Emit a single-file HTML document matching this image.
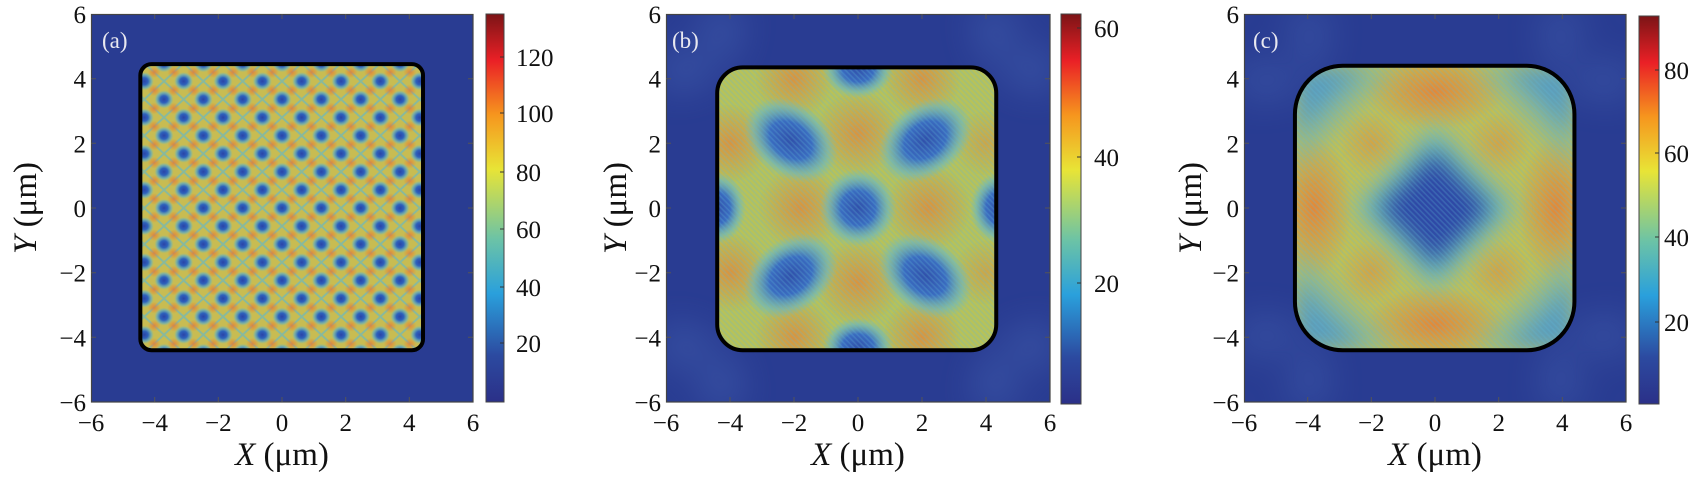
<!DOCTYPE html>
<html><head><meta charset="utf-8"><style>
html,body{margin:0;padding:0;background:#fff;}
svg{display:block;}
text{font-family:"Liberation Serif",serif;fill:#111;}
.t{font-size:25px;}
.lab{font-size:33px;}
.pl{font-size:23px;fill:#e8e8f0;}
</style></head><body>
<svg width="1698" height="481" viewBox="0 0 1698 481" xmlns="http://www.w3.org/2000/svg">
<defs>
 <linearGradient id="cb" x1="0" y1="1" x2="0" y2="0">
  <stop offset="0" stop-color="#2b3088"/>
  <stop offset="0.12" stop-color="#2c4aa0"/>
  <stop offset="0.28" stop-color="#2aa0dc"/>
  <stop offset="0.42" stop-color="#6cc3a6"/>
  <stop offset="0.6" stop-color="#e8e436"/>
  <stop offset="0.74" stop-color="#f6961e"/>
  <stop offset="0.88" stop-color="#ea2026"/>
  <stop offset="1" stop-color="#7c1416"/>
 </linearGradient>
 <radialGradient id="spot">
  <stop offset="0" stop-color="#2a44a8"/>
  <stop offset="0.4" stop-color="#2e62bc"/>
  <stop offset="0.75" stop-color="#4aa8d8" stop-opacity="0.6"/>
  <stop offset="1" stop-color="#6cc0c0" stop-opacity="0"/>
 </radialGradient>
 <radialGradient id="org">
  <stop offset="0" stop-color="#ec7a30" stop-opacity="0.8"/>
  <stop offset="1" stop-color="#ec7a30" stop-opacity="0"/>
 </radialGradient>
 <radialGradient id="blob">
  <stop offset="0" stop-color="#3050aa"/>
  <stop offset="0.45" stop-color="#3a6cc0"/>
  <stop offset="0.8" stop-color="#58b4d8" stop-opacity="0.5"/>
  <stop offset="1" stop-color="#60c0d0" stop-opacity="0"/>
 </radialGradient>
 <pattern id="pa" patternUnits="userSpaceOnUse" x="-0.618" y="-0.56" width="1.236" height="1.12">
  <rect width="1.236" height="1.12" fill="#c8bc52"/>
  <path d="M0 0.56 L0.618 0 L1.236 0.56 L0.618 1.12 Z" fill="none" stroke="#5cb8d0" stroke-width="0.06" opacity="0.6"/>
  <ellipse cx="0.309" cy="0.28" rx="0.2" ry="0.18" fill="url(#org)"/>
  <ellipse cx="0.927" cy="0.84" rx="0.2" ry="0.18" fill="url(#org)"/>
  <ellipse cx="0.927" cy="0.28" rx="0.2" ry="0.18" fill="url(#org)"/>
  <ellipse cx="0.309" cy="0.84" rx="0.2" ry="0.18" fill="url(#org)"/>
  <ellipse cx="0.618" cy="0.56" rx="0.3" ry="0.28" fill="url(#spot)"/>
  <ellipse cx="0" cy="0" rx="0.3" ry="0.28" fill="url(#spot)"/>
  <ellipse cx="1.236" cy="0" rx="0.3" ry="0.28" fill="url(#spot)"/>
  <ellipse cx="0" cy="1.12" rx="0.3" ry="0.28" fill="url(#spot)"/>
  <ellipse cx="1.236" cy="1.12" rx="0.3" ry="0.28" fill="url(#spot)"/>
 </pattern>
 <pattern id="hatch" patternUnits="userSpaceOnUse" width="0.12" height="0.12" patternTransform="rotate(45)">
  <rect width="0.12" height="0.05" fill="#60b8d8" fill-opacity="0.25"/>
 </pattern>
 <clipPath id="ca"><rect x="-4.45" y="-4.45" width="8.88" height="8.85" rx="0.35"/></clipPath>
 <clipPath id="cbp"><rect x="-4.4" y="-4.35" width="8.72" height="8.75" rx="0.8"/></clipPath>
 <clipPath id="cc"><rect x="-4.4" y="-4.4" width="8.78" height="8.8" rx="1.5"/></clipPath>
 <filter id="bl" x="-20%" y="-20%" width="140%" height="140%"><feGaussianBlur stdDeviation="0.35"/></filter>
 <filter id="bl2" x="-20%" y="-20%" width="140%" height="140%"><feGaussianBlur stdDeviation="0.6"/></filter>
</defs>

<!-- ============ Panel A ============ -->
<svg x="91" y="14" width="382" height="388" viewBox="-6 -6 12 12" preserveAspectRatio="none">
 <rect x="-6" y="-6" width="12" height="12" fill="#293c92"/>
 <g clip-path="url(#ca)">
  <rect x="-6" y="-6" width="12" height="12" fill="url(#pa)"/>
 </g>
 <rect x="-4.45" y="-4.45" width="8.88" height="8.85" rx="0.35" fill="none" stroke="#000" stroke-width="4" vector-effect="non-scaling-stroke"/>
</svg>
<rect x="91.5" y="14.5" width="381.5" height="387.5" fill="none" stroke="#444" stroke-width="1.2"/>
<g stroke="#555" stroke-width="1">
 <path d="M154.7 402v-5M218.3 402v-5M282 402v-5M345.7 402v-5M409.3 402v-5M154.7 14v5M218.3 14v5M282 14v5M345.7 14v5M409.3 14v5"/>
 <path d="M91 78.7h5M91 143.3h5M91 208h5M91 272.7h5M91 337.3h5M473 78.7h-5M473 143.3h-5M473 208h-5M473 272.7h-5M473 337.3h-5"/>
</g>
<g class="t" text-anchor="middle">
 <text x="91" y="431">−6</text><text x="154.7" y="431">−4</text><text x="218.3" y="431">−2</text><text x="282" y="431">0</text><text x="345.7" y="431">2</text><text x="409.3" y="431">4</text><text x="473" y="431">6</text>
</g>
<g class="t" text-anchor="end">
 <text x="86" y="23">6</text><text x="86" y="87.7">4</text><text x="86" y="152.3">2</text><text x="86" y="217">0</text><text x="86" y="281.7">−2</text><text x="86" y="346.3">−4</text><text x="86" y="411">−6</text>
</g>
<text class="pl" x="102" y="48">(a)</text>
<text class="lab" x="282" y="465" text-anchor="middle"><tspan font-style="italic">X</tspan> (μm)</text>
<text class="lab" transform="translate(36,208) rotate(-90)" text-anchor="middle"><tspan font-style="italic">Y</tspan> (μm)</text>
<rect x="486" y="14" width="18" height="388" fill="url(#cb)" stroke="#444" stroke-width="1"/>
<g stroke="#333"><path d="M500 57h4M500 113h4M500 172h4M500 229h4M500 287h4M500 343h4"/></g>
<g class="t"><text x="516" y="66">120</text><text x="516" y="122">100</text><text x="516" y="181">80</text><text x="516" y="238">60</text><text x="516" y="296">40</text><text x="516" y="352">20</text></g>

<!-- ============ Panel B ============ -->
<svg x="666" y="14" width="384" height="388" viewBox="-6 -6 12 12" preserveAspectRatio="none">
 <rect x="-6" y="-6" width="12" height="12" fill="#293c92"/>
 <g fill="#5a80c8" opacity="0.45" filter="url(#bl2)">
  <polygon points="-4.3,-4.2 -6,-5 -6,-3.6"/><polygon points="4.3,-4.2 6,-5 6,-3.6"/>
  <polygon points="-4.3,4.2 -6,5 -6,3.6"/><polygon points="4.3,4.2 6,5 6,3.6"/>
  <polygon points="-4.2,-4.3 -5,-6 -3.6,-6"/><polygon points="4.2,-4.3 5,-6 3.6,-6"/>
  <polygon points="-4.2,4.3 -5,6 -3.6,6"/><polygon points="4.2,4.3 5,6 3.6,6"/>
 </g>
 <g clip-path="url(#cbp)">
  <rect x="-6" y="-6" width="12" height="12" fill="#b8c258"/>
  <g fill="url(#org)" opacity="0.8">
   <circle cx="0" cy="-2.3" r="1.3"/><circle cx="0" cy="2.3" r="1.3"/>
   <circle cx="-1.8" cy="0" r="1.3"/><circle cx="2.2" cy="0" r="1.3"/>
   <circle cx="-4" cy="-2" r="1.2"/><circle cx="-4" cy="2" r="1.2"/>
   <circle cx="-2" cy="-4" r="1.2"/><circle cx="2" cy="-4" r="1.2"/>
   <circle cx="-2" cy="4" r="1.2"/><circle cx="2" cy="4" r="1.2"/>
   <circle cx="4" cy="-2" r="1" opacity="0.6"/><circle cx="4" cy="2" r="1" opacity="0.6"/>
  </g>
  <g fill="url(#blob)">
   <ellipse cx="0" cy="0" rx="1.2" ry="1.2"/>
   <ellipse cx="-2.1" cy="-2.1" rx="1.6" ry="1.15" transform="rotate(35 -2.1 -2.1)"/>
   <ellipse cx="2.1" cy="-2.1" rx="1.6" ry="1.15" transform="rotate(-35 2.1 -2.1)"/>
   <ellipse cx="-2.1" cy="2.1" rx="1.6" ry="1.15" transform="rotate(-35 -2.1 2.1)"/>
   <ellipse cx="2.1" cy="2.1" rx="1.6" ry="1.15" transform="rotate(35 2.1 2.1)"/>
   <ellipse cx="0" cy="-4.3" rx="1.1" ry="0.9"/><ellipse cx="0" cy="4.3" rx="1.1" ry="0.9"/>
   <ellipse cx="-4.4" cy="0" rx="0.9" ry="1.1"/><ellipse cx="4.4" cy="0" rx="0.9" ry="1.1"/>
  </g>
  <rect x="-6" y="-6" width="12" height="12" fill="url(#hatch)"/>
 </g>
 <rect x="-4.4" y="-4.35" width="8.72" height="8.75" rx="0.8" fill="none" stroke="#000" stroke-width="4" vector-effect="non-scaling-stroke"/>
</svg>
<rect x="666.5" y="14.5" width="383.5" height="387.5" fill="none" stroke="#444" stroke-width="1.2"/>
<g stroke="#555" stroke-width="1">
 <path d="M730 402v-5M794 402v-5M858 402v-5M922 402v-5M986 402v-5M730 14v5M794 14v5M858 14v5M922 14v5M986 14v5"/>
 <path d="M666 78.7h5M666 143.3h5M666 208h5M666 272.7h5M666 337.3h5M1050 78.7h-5M1050 143.3h-5M1050 208h-5M1050 272.7h-5M1050 337.3h-5"/>
</g>
<g class="t" text-anchor="middle">
 <text x="666" y="431">−6</text><text x="730" y="431">−4</text><text x="794" y="431">−2</text><text x="858" y="431">0</text><text x="922" y="431">2</text><text x="986" y="431">4</text><text x="1050" y="431">6</text>
</g>
<g class="t" text-anchor="end">
 <text x="661" y="23">6</text><text x="661" y="87.7">4</text><text x="661" y="152.3">2</text><text x="661" y="217">0</text><text x="661" y="281.7">−2</text><text x="661" y="346.3">−4</text><text x="661" y="411">−6</text>
</g>
<text class="pl" x="672" y="48">(b)</text>
<text class="lab" x="858" y="465" text-anchor="middle"><tspan font-style="italic">X</tspan> (μm)</text>
<text class="lab" transform="translate(626,208) rotate(-90)" text-anchor="middle"><tspan font-style="italic">Y</tspan> (μm)</text>
<rect x="1061" y="14" width="20" height="390" fill="url(#cb)" stroke="#444" stroke-width="1"/>
<g stroke="#333"><path d="M1077 28h4M1077 157h4M1077 283h4"/></g>
<g class="t"><text x="1094" y="37">60</text><text x="1094" y="166">40</text><text x="1094" y="292">20</text></g>

<!-- ============ Panel C ============ -->
<svg x="1244" y="14" width="382" height="388" viewBox="-6 -6 12 12" preserveAspectRatio="none">
 <rect x="-6" y="-6" width="12" height="12" fill="#293c92"/>
 <g fill="#5a80c8" opacity="0.4" filter="url(#bl2)">
  <polygon points="-3.8,-3.8 -6,-4.6 -6,-3.4"/><polygon points="3.8,-3.8 6,-4.6 6,-3.4"/>
  <polygon points="-3.8,3.8 -6,4.6 -6,3.4"/><polygon points="3.8,3.8 6,4.6 6,3.4"/>
  <polygon points="-3.8,-3.8 -4.6,-6 -3.4,-6"/><polygon points="3.8,-3.8 4.6,-6 3.4,-6"/>
  <polygon points="-3.8,3.8 -4.6,6 -3.4,6"/><polygon points="3.8,3.8 4.6,6 3.4,6"/>
 </g>
 <g clip-path="url(#cc)">
  <rect x="-6" y="-6" width="12" height="12" fill="#c2c052"/>
  <g fill="url(#org)">
   <ellipse cx="0" cy="-3.6" rx="2.2" ry="1.2"/><ellipse cx="0" cy="3.6" rx="2.2" ry="1.2"/>
   <ellipse cx="-3.8" cy="0" rx="1.2" ry="2.2"/><ellipse cx="3.8" cy="0" rx="1.2" ry="2.2"/>
   <ellipse cx="-2" cy="-2" rx="1" ry="1" opacity="0.5"/><ellipse cx="2" cy="2" rx="1" ry="1" opacity="0.5"/>
   <ellipse cx="2" cy="-2" rx="1" ry="1" opacity="0.5"/><ellipse cx="-2" cy="2" rx="1" ry="1" opacity="0.5"/>
  </g>
  <g filter="url(#bl)">
   <polygon points="0,-2.6 2.6,0 0,2.6 -2.6,0" fill="#5ab8d6" opacity="0.75"/>
   <polygon points="0,-1.9 1.9,0 0,1.9 -1.9,0" fill="#2e4aa6"/>
   <g fill="#3a78c4" opacity="0.8">
    <polygon points="-4.4,-2.2 -4.4,-4.4 -2.2,-4.4"/><polygon points="4.4,-2.2 4.4,-4.4 2.2,-4.4"/>
    <polygon points="-4.4,2.2 -4.4,4.4 -2.2,4.4"/><polygon points="4.4,2.2 4.4,4.4 2.2,4.4"/>
   </g>
   <g fill="#5ab0d0" opacity="0.5">
    <polygon points="-4.4,-1.2 -4.4,-4.4 -1.2,-4.4"/><polygon points="4.4,-1.2 4.4,-4.4 1.2,-4.4"/>
    <polygon points="-4.4,1.2 -4.4,4.4 -1.2,4.4"/><polygon points="4.4,1.2 4.4,4.4 1.2,4.4"/>
   </g>
  </g>
  <rect x="-6" y="-6" width="12" height="12" fill="url(#hatch)"/>
 </g>
 <rect x="-4.4" y="-4.4" width="8.78" height="8.8" rx="1.5" fill="none" stroke="#000" stroke-width="4" vector-effect="non-scaling-stroke"/>
</svg>
<rect x="1244.5" y="14.5" width="381.5" height="387.5" fill="none" stroke="#444" stroke-width="1.2"/>
<g stroke="#555" stroke-width="1">
 <path d="M1307.7 402v-5M1371.3 402v-5M1435 402v-5M1498.7 402v-5M1562.3 402v-5M1307.7 14v5M1371.3 14v5M1435 14v5M1498.7 14v5M1562.3 14v5"/>
 <path d="M1244 78.7h5M1244 143.3h5M1244 208h5M1244 272.7h5M1244 337.3h5M1626 78.7h-5M1626 143.3h-5M1626 208h-5M1626 272.7h-5M1626 337.3h-5"/>
</g>
<g class="t" text-anchor="middle">
 <text x="1244" y="431">−6</text><text x="1307.7" y="431">−4</text><text x="1371.3" y="431">−2</text><text x="1435" y="431">0</text><text x="1498.7" y="431">2</text><text x="1562.3" y="431">4</text><text x="1626" y="431">6</text>
</g>
<g class="t" text-anchor="end">
 <text x="1239" y="23">6</text><text x="1239" y="87.7">4</text><text x="1239" y="152.3">2</text><text x="1239" y="217">0</text><text x="1239" y="281.7">−2</text><text x="1239" y="346.3">−4</text><text x="1239" y="411">−6</text>
</g>
<text class="pl" x="1253" y="48">(c)</text>
<text class="lab" x="1435" y="465" text-anchor="middle"><tspan font-style="italic">X</tspan> (μm)</text>
<text class="lab" transform="translate(1201,208) rotate(-90)" text-anchor="middle"><tspan font-style="italic">Y</tspan> (μm)</text>
<rect x="1639" y="16" width="20" height="388" fill="url(#cb)" stroke="#444" stroke-width="1"/>
<g stroke="#333"><path d="M1655 70h4M1655 153h4M1655 237h4M1655 322h4"/></g>
<g class="t"><text x="1664" y="79">80</text><text x="1664" y="162">60</text><text x="1664" y="246">40</text><text x="1664" y="331">20</text></g>
</svg>
</body></html>
